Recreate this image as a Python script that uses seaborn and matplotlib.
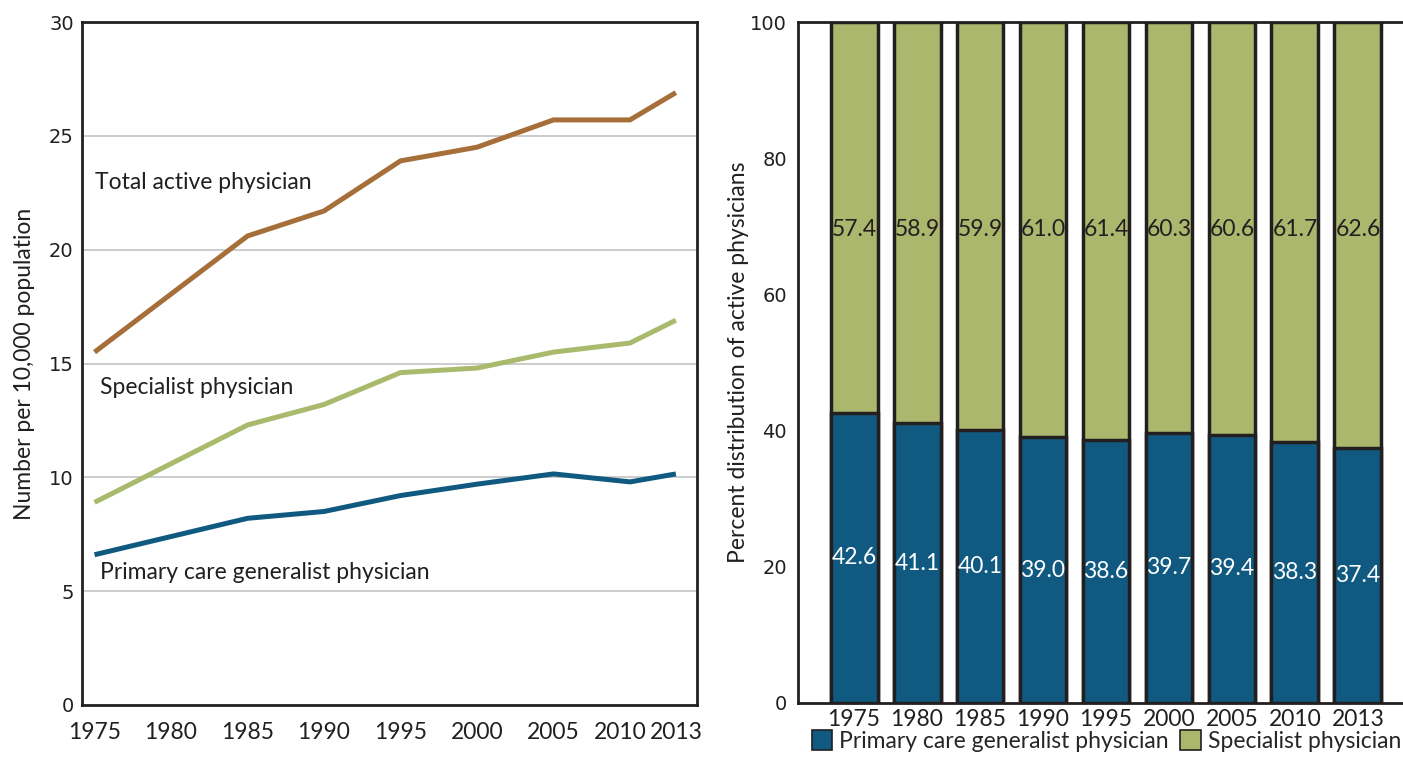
import pandas as pd
import numpy as np
import matplotlib
matplotlib.use('Agg')
import matplotlib.pyplot as plt
import matplotlib.transforms as mtransforms
import seaborn as sns
from matplotlib.patches import Patch

# ── data ──────────────────────────────────────────────────────
LINE_YEARS = [1975, 1985, 1990, 1995, 2000, 2005, 2010, 2013]
TOTAL      = [15.5, 20.6, 21.7, 23.9, 24.5, 25.7, 25.7, 26.9]
SPECIALIST = [8.9, 12.3, 13.2, 14.6, 14.8, 15.5, 15.9, 16.9]
PRIMARY    = [6.6, 8.2, 8.5, 9.2, 9.7, 10.15, 9.8, 10.15]

TICK_YEARS = [1975, 1980, 1985, 1990, 1995, 2000, 2005, 2010, 2013]

BAR_YEARS   = ['1975', '1980', '1985', '1990', '1995', '2000', '2005', '2010', '2013']
PCT_PRIMARY = [42.6, 41.1, 40.1, 39.0, 38.6, 39.7, 39.4, 38.3, 37.4]
PCT_SPEC    = [57.4, 58.9, 59.9, 61.0, 61.4, 60.3, 60.6, 61.7, 62.6]

BROWN = '#a66f3a'
GREEN_LINE = '#a9ba6c'
GREEN = '#acb76e'
BLUE = '#105a82'
DARK = '#231f20'
FS = 16.5

sns.set_style('white')
plt.rcParams['font.family'] = ['Lato', 'DejaVu Sans']

fig = plt.figure(figsize=(14.03, 7.58), dpi=100)
ax1 = fig.add_axes([82 / 1403, 53 / 758, 615 / 1403, 683 / 758])
ax2 = fig.add_axes([798 / 1403, 55 / 758, 616 / 1403, 681 / 758])

# ── left: lines ───────────────────────────────────────────────
df = pd.DataFrame({
    'year': LINE_YEARS * 3,
    'value': TOTAL + SPECIALIST + PRIMARY,
    'series': ['Total'] * 8 + ['Specialist'] * 8 + ['Primary'] * 8,
})
sns.lineplot(data=df, x='year', y='value', hue='series',
             palette={'Total': BROWN, 'Specialist': GREEN_LINE, 'Primary': BLUE},
             linewidth=3.6, legend=False, ax=ax1)
for ln in ax1.lines:
    ln.set_solid_capstyle('butt')
    ln.set_solid_joinstyle('miter')

ax1.set_xlim(1974.18, 2014.38)
ax1.set_ylim(0, 30)
ax1.set_yticks([0, 5, 10, 15, 20, 25, 30])
ax1.set_xticks(TICK_YEARS)
ax1.set_xticklabels([str(y) for y in TICK_YEARS], fontsize=FS)

for y in [5, 10, 15, 20, 25]:
    ax1.axhline(y, color='#c8c8c8', lw=1.3, zorder=0)
ax1.tick_params(axis='x', direction='out', length=8, width=2, color=DARK,
                pad=4, labelcolor=DARK)
ax1.tick_params(axis='y', length=0, pad=6, labelcolor=DARK)
for lab in ax1.get_yticklabels():
    lab.set_family('DejaVu Sans')
    lab.set_fontsize(14)

# pull the crowded 2010 label a little to the left (after tick_params,
# which resets label transforms)
shift = mtransforms.ScaledTranslation(-10 / 100, 0, fig.dpi_scale_trans)
lab2010 = ax1.xaxis.get_major_ticks()[TICK_YEARS.index(2010)].label1
lab2010.set_transform(lab2010.get_transform() + shift)

for sp in ax1.spines.values():
    sp.set_color(DARK)
    sp.set_linewidth(2)
ax1.set_xlabel('')
ax1.set_ylabel('Number per 10,000 population', fontsize=FS, color=DARK, labelpad=10)

ax1.text(1975.0, 22.95, 'Total active physician', fontsize=FS, color=DARK, va='center')
ax1.text(1975.35, 13.93, 'Specialist physician', fontsize=FS, color=DARK, va='center')
ax1.text(1975.35, 5.8, 'Primary care generalist physician', fontsize=FS, color=DARK, va='center')

# ── right: stacked bars ───────────────────────────────────────
bars = pd.DataFrame({'year': BAR_YEARS, 'primary': PCT_PRIMARY, 'spec': PCT_SPEC})
bars['total'] = bars['primary'] + bars['spec']
sns.barplot(data=bars, x='year', y='total', color=GREEN, saturation=1,
            edgecolor=DARK, linewidth=2.5, width=0.745, ax=ax2)
sns.barplot(data=bars, x='year', y='primary', color=BLUE, saturation=1,
            edgecolor=DARK, linewidth=2.5, width=0.745, ax=ax2)

for i, (p, s) in enumerate(zip(PCT_PRIMARY, PCT_SPEC)):
    ax2.text(i, p / 2, f'{p:.1f}', ha='center', va='center', fontsize=FS, color='white')
    ax2.text(i, 69.5, f'{s:.1f}', ha='center', va='center', fontsize=FS, color=DARK)

ax2.set_xlim(-0.89, 8.89)
ax2.set_ylim(0, 100)
ax2.set_yticks([0, 20, 40, 60, 80, 100])
ax2.tick_params(axis='x', length=0, pad=4, labelsize=FS, labelcolor=DARK)
ax2.tick_params(axis='y', length=0, pad=8, labelcolor=DARK)
for lab in ax2.get_yticklabels():
    lab.set_family('DejaVu Sans')
    lab.set_fontsize(14)
for sp in ax2.spines.values():
    sp.set_color(DARK)
    sp.set_linewidth(2)
ax2.set_xlabel('')
ax2.set_ylabel('Percent distribution of active physicians', fontsize=FS, color=DARK, labelpad=1)

handles = [Patch(facecolor=BLUE, edgecolor=DARK, lw=1.2, label='Primary care generalist physician'),
           Patch(facecolor=GREEN, edgecolor=DARK, lw=1.2, label='Specialist physician')]
ax2.legend(handles=handles, loc='upper left', bbox_to_anchor=(0.022, -0.04), ncol=2,
           frameon=False, fontsize=FS, handlelength=0.9, handleheight=0.95,
           handletextpad=0.3, columnspacing=0.5, borderaxespad=0, borderpad=0)

fig.savefig('out.png', dpi=100)
